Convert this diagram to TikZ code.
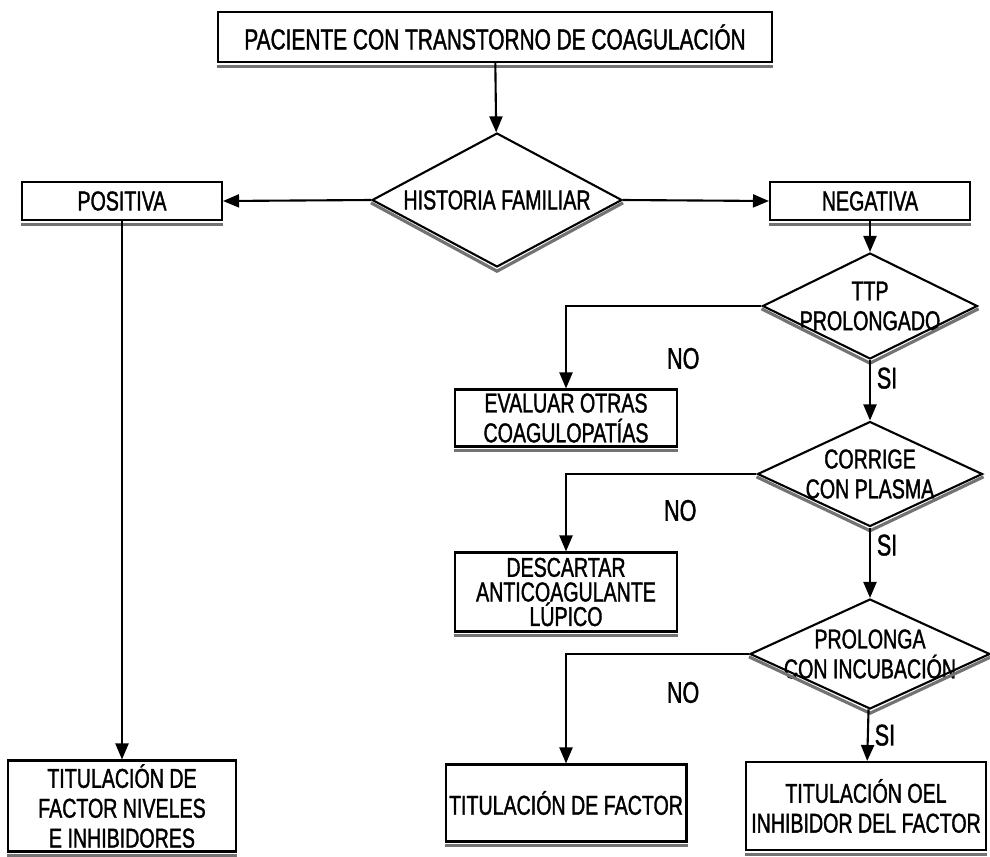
\documentclass[tikz,border=0pt]{standalone}
\usepackage{fontspec}
\setmainfont[FakeStretch=0.72, FakeBold=1.3]{Liberation Sans}
\usetikzlibrary{positioning,shapes.geometric,arrows.meta}

\begin{document}
\begin{tikzpicture}[
  x=0.02cm, y=-0.02cm,
  every node/.style={font=\fontsize{15.5}{17}\selectfont},
  box/.style={draw, fill=white, line width=1.2pt, align=center, inner sep=2pt},
  decision/.style={draw, diamond, fill=white, line width=1.2pt, inner sep=0pt},
  flow/.style={-{Triangle[length=3.2mm,width=2.6mm]}, line width=1.2pt},
  shadowline/.style={draw=black!55, line width=1.8pt},
  lbl/.style={font=\fontsize{17}{18}\selectfont},
]
\useasboundingbox (0,0) rectangle (990,856);

% ---- top and first decision -------------------------------------------
\node[box, minimum width=11.08cm, minimum height=1.0cm,
      font=\fontsize{16.5}{18}\selectfont] (pac) at (495,37)
     {PACIENTE CON TRANSTORNO DE COAGULACIÓN};
\node[decision, minimum width=5cm, minimum height=2.68cm,
      label={center:HISTORIA FAMILIAR}] (hist) at (497,200) {};

\node[box, minimum width=4cm, minimum height=0.76cm] (pos) at (122,201) {POSITIVA};
\node[box, minimum width=4cm, minimum height=0.76cm] (neg) at (870,201) {NEGATIVA};

% ---- right column of tests --------------------------------------------
\node[decision, minimum width=4.3cm, minimum height=2.12cm,
      label={[align=center]center:TTP\\PROLONGADO}] (ttp) at (870,306) {};
\node[decision, minimum width=4.5cm, minimum height=2.1cm,
      label={[align=center]center:CORRIGE\\CON PLASMA}] (corr) at (870,474) {};
\node[decision, minimum width=4.8cm, minimum height=2.2cm,
      label={[align=center]center:PROLONGA\\CON INCUBACIÓN}] (prol) at (870,654) {};

% ---- results ----------------------------------------------------------
\node[box, minimum width=4.44cm, minimum height=1.14cm] (eval) at (566,418)
     {EVALUAR OTRAS\\COAGULOPATÍAS};
\node[box, minimum width=4.44cm, minimum height=1.58cm,
      font=\fontsize{15.5}{14}\selectfont] (desc) at (566,592)
     {DESCARTAR\\ANTICOAGULANTE\\LÚPICO};
\node[box, minimum width=4.24cm, minimum height=1.54cm] (titf) at (566,803)
     {TITULACIÓN DE FACTOR};
\node[box, minimum width=4.8cm, minimum height=1.76cm] (tinh) at (866,806)
     {TITULACIÓN OEL\\INHIBIDOR DEL FACTOR};
\node[box, minimum width=4.56cm, minimum height=1.82cm] (tniv) at (122,806)
     {TITULACIÓN DE\\FACTOR NIVELES\\E INHIBIDORES};

% ---- printed shadows under boxes and diamonds -------------------------
\foreach \n in {pac,pos,neg,eval,desc,titf,tinh,tniv}
  \draw[shadowline] ([yshift=-1.8pt]\n.south west) -- ([yshift=-1.8pt]\n.south east);
\foreach \n in {hist,ttp,corr,prol}
  \draw[shadowline] ([yshift=-1.6pt]\n.west) -- ([yshift=-1.8pt]\n.south)
                    -- ([yshift=-1.6pt]\n.east);

% ---- connectors -------------------------------------------------------
\draw[flow] (pac) -- (hist);
\draw[flow] (hist.west) -- (pos.east);
\draw[flow] (hist.east) -- (neg.west);
\draw[flow] (pos) -- (tniv);
\draw[flow] (neg) -- (ttp);

\draw[flow] (ttp.west) -| node[lbl, pos=0.2, below=0.7cm] {NO} (eval.north);
\draw[flow] (ttp) -- node[lbl, right, pos=0.3] {SI} (corr);
\draw[flow] (corr.west) -| node[lbl, pos=0.2, below=0.38cm] {NO} (desc.north);
\draw[flow] (corr) -- node[lbl, right, pos=0.25] {SI} (prol);
\draw[flow] (prol.west) -| node[lbl, pos=0.18, below=0.42cm] {NO} (titf.north);
\draw[flow] (prol) -- node[lbl, right, pos=0.5] {SI} (tinh);

\end{tikzpicture}
\end{document}
